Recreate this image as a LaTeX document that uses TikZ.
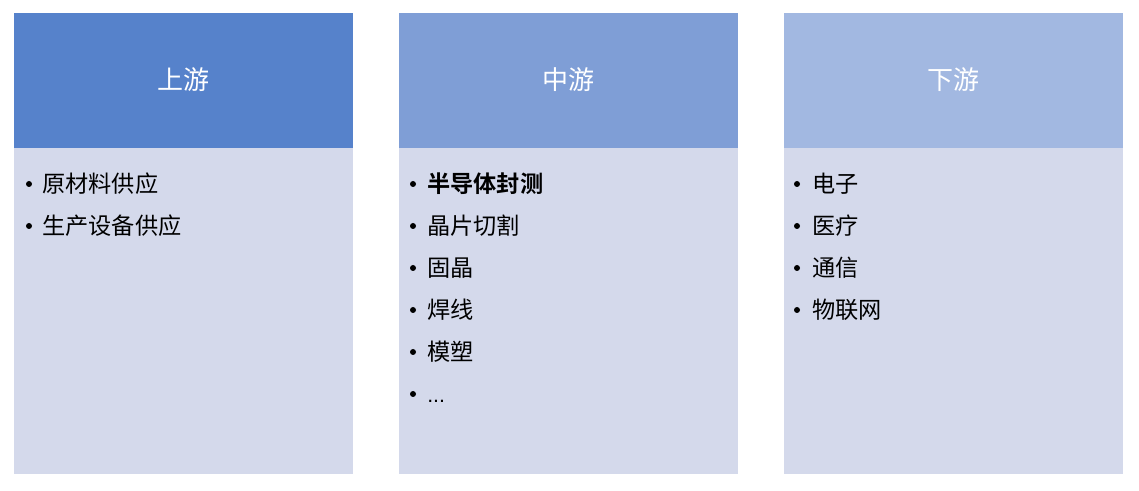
\documentclass[tikz,border=0pt]{standalone}
\usepackage{fontspec}
\newfontfamily\cjk{Noto Sans CJK SC}[BoldFont={Noto Sans CJK SC Bold}]
\newfontfamily\latn{Liberation Sans}
\definecolor{hA}{HTML}{5682CB}
\definecolor{hB}{HTML}{7F9ED6}
\definecolor{hC}{HTML}{A2B8E1}
\definecolor{bodyc}{HTML}{D4D9EB}
\begin{document}
\begin{tikzpicture}[x=0.75pt,y=-0.75pt,
  htext/.style={text=white,font=\cjk\fontsize{19.5}{22}\selectfont,anchor=center},
  item/.style={anchor=west,inner sep=0pt,font=\cjk\fontsize{17.4}{20}\selectfont,text=black},
  dot/.style={circle,fill=black,inner sep=0pt,minimum size=4.5pt}]
\useasboundingbox (0,0) rectangle (1139,491);
% columns
\fill[bodyc] (14,148) rectangle (353,474);
\fill[hA] (14,13) rectangle (353,148);
\fill[bodyc] (399,148) rectangle (738,474);
\fill[hB] (399,13) rectangle (738,148);
\fill[bodyc] (784,148) rectangle (1123,474);
\fill[hC] (784,13) rectangle (1123,148);
\node[htext] (h1) at (183.5,80) {上游};
\node[htext] (h2) at (568.5,80) {中游};
\node[htext] (h3) at (953.5,80) {下游};
% column 1
\node[dot] (d11) at (29,184) {};
\node[item] (a1) at (42,184) {原材料供应};
\node[dot] (d12) at (29,226) {};
\node[item] (a2) at (42,226) {生产设备供应};
% column 2
\node[dot] (d21) at (413,184) {};
\node[item] (b1) at (427,184) {\textbf{半导体封测}};
\node[dot] (d22) at (413,226) {};
\node[item] (b2) at (427,226) {晶片切割};
\node[dot] (d23) at (413,268) {};
\node[item] (b3) at (427,268) {固晶};
\node[dot] (d24) at (413,310) {};
\node[item] (b4) at (427,310) {焊线};
\node[dot] (d25) at (413,352) {};
\node[item] (b5) at (427,352) {模塑};
\node[dot] (d26) at (413,394) {};
\node[item] (b6) at (427,394) {{\latn\fontsize{16}{20}\selectfont ...}\vphantom{模}};
% column 3
\node[dot] (d31) at (797,184) {};
\node[item] (c1) at (812,184) {电子};
\node[dot] (d32) at (797,226) {};
\node[item] (c2) at (812,226) {医疗};
\node[dot] (d33) at (797,268) {};
\node[item] (c3) at (812,268) {通信};
\node[dot] (d34) at (797,310) {};
\node[item] (c4) at (812,310) {物联网};
\end{tikzpicture}
\end{document}
